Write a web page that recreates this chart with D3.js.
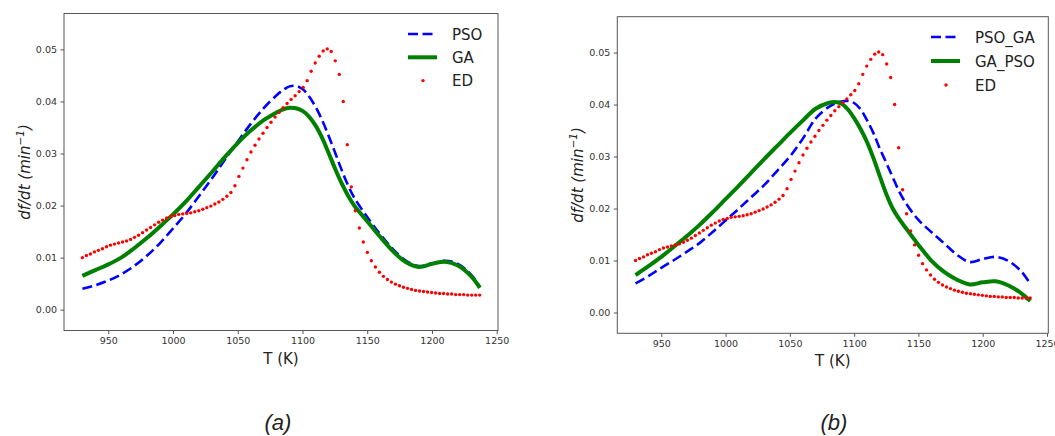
<!DOCTYPE html>
<html lang="en">
<head>
    <meta charset="UTF-8">
    <title>df/dt fits</title>
    <script src="https://d3js.org/d3.v7.min.js"></script>
    <style>
        body { margin: 0; background: #fff; }
        .tick text { font-family: "DejaVu Sans", sans-serif; font-size: 9.5px; fill: #333; }
        .tick line { stroke: #555; }
        .axis-title { font-family: "DejaVu Sans", sans-serif; font-size: 15px; fill: #222; }
        .legend text { font-family: "DejaVu Sans", sans-serif; font-size: 15px; fill: #222; }
        .caption { font-family: "Liberation Sans", Arial, sans-serif; font-size: 22px; font-style: italic; fill: #222; }
    </style>
</head>
<body>
<svg width="1055" height="436"></svg>

<script>
    // temperature grid of the fitted curves (K)
    const fitTemp = [930, 940, 950, 960, 970, 980, 990, 1000, 1010, 1020, 1030, 1040, 1050, 1060, 1070, 1080,
        1085, 1090, 1095, 1100, 1105, 1110, 1115, 1120, 1125, 1130, 1135, 1140, 1150, 1160, 1170, 1180,
        1190, 1200, 1210, 1220, 1230, 1237];

    // panel (a)
    const psoVals = [.0040, .0047, .0056, .0068, .0084, .0104, .0128, .0156, .0185, .0218, .0252, .0288, .0323, .0357, .0387, .0412,
        .0422, .0429, .0430, .0424, .0410, .0390, .0365, .0335, .0303, .0270, .0240, .0215, .0178, .0145, .0116, .0094,
        .0084, .0089, .0094, .0088, .0068, .0044];
    const gaVals = [.0065, .0076, .0087, .0100, .0118, .0138, .0160, .0183, .0208, .0236, .0264, .0293, .0320, .0344, .0364, .0379,
        .0385, .0388, .0387, .0382, .0371, .0354, .0331, .0302, .0272, .0244, .0220, .0200, .0170, .0140, .0112, .0091,
        .0082, .0088, .0092, .0085, .0065, .0042];

    // panel (b)
    const psoGaVals = [.0056, .0070, .0086, .0101, .0117, .0134, .0155, .0177, .0199, .0222, .0245, .0272, .0300, .0334, .0373, .0395,
        .0402, .0406, .0407, .0403, .0391, .0370, .0345, .0315, .0288, .0260, .0233, .0211, .0178, .0155, .0133, .0111,
        .0097, .0103, .0107, .0099, .0079, .0055];
    const gaPsoVals = [.0072, .0089, .0107, .0127, .0147, .0169, .0193, .0218, .0243, .0269, .0295, .0320, .0345, .0369, .0392, .0403,
        .0405, .0402, .0391, .0374, .0353, .0328, .0297, .0262, .0228, .0200, .0180, .0163, .0130, .0100, .0078, .0063,
        .0054, .0058, .0060, .0052, .0037, .0022];

    // experimental data (same in both panels)
    const edTemp = [930.0, 933.1, 936.2, 939.3, 942.4, 945.5, 948.6, 951.7, 954.8, 957.9, 961.0, 964.1, 967.2, 970.3, 973.4,
        976.5, 979.6, 982.7, 985.8, 988.9, 992.0, 995.1, 998.2, 1001.3, 1004.4, 1007.5, 1010.6, 1013.7, 1016.8, 1019.9,
        1023.0, 1026.1, 1029.2, 1032.3, 1035.4, 1038.5, 1041.6, 1044.7, 1047.8, 1050.9, 1054.0, 1057.1, 1060.2, 1063.3,
        1066.4, 1069.5, 1072.6, 1075.7, 1078.8, 1081.9, 1085.0, 1088.1, 1091.2, 1094.3, 1097.4, 1100.5, 1103.6, 1106.7,
        1109.8, 1112.9, 1116.0, 1119.1, 1122.2, 1125.3, 1128.4, 1131.5, 1134.6, 1137.7, 1140.8, 1143.9, 1147.0, 1150.1,
        1153.2, 1156.3, 1159.4, 1162.5, 1165.6, 1168.7, 1171.8, 1174.9, 1178.0, 1181.1, 1184.2, 1187.3, 1190.4, 1193.5,
        1196.6, 1199.7, 1202.8, 1205.9, 1209.0, 1212.1, 1215.2, 1218.3, 1221.4, 1224.5, 1227.6, 1230.7, 1233.8, 1236.9];
    const edVals = [.0100, .0104, .0107, .0111, .0114, .0117, .0121, .0124, .0126, .0128, .0130, .0132, .0135, .0139, .0143,
        .0148, .0153, .0158, .0163, .0168, .0172, .0176, .0179, .0181, .0183, .0184, .0185, .0186, .0188, .0190,
        .0193, .0196, .0199, .0203, .0207, .0212, .0218, .0225, .0238, .0256, .0272, .0288, .0303, .0316,
        .0328, .0339, .0350, .0360, .0370, .0379, .0388, .0396, .0404, .0411, .0419, .0427, .0440, .0458,
        .0474, .0487, .0497, .0501, .0496, .0478, .0452, .0400, .0317, .0236, .0190, .0157, .0130, .0110,
        .0094, .0082, .0072, .0064, .0058, .0053, .0049, .0046, .0043, .0041, .0039, .0037, .0036, .0035,
        .0034, .0033, .0032, .0031, .0031, .0030, .0030, .0029, .0029, .0029, .0028, .0028, .0028, .0028];

    const xTicks = [950, 1000, 1050, 1100, 1150, 1200, 1250];
    const yTicks = [0, 0.01, 0.02, 0.03, 0.04, 0.05];

    const svg = d3.select("svg");
    svg.append("rect").attr("width", 1055).attr("height", 436).attr("fill", "#fff");

    function drawPanel(p) {
        const x = d3.scaleLinear().domain([915.8, 1251]).range([p.left, p.right]);
        const y = d3.scaleLinear().domain([-0.004, 0.0569]).range([p.bottom, p.top]);
        const g = svg.append("g");

        g.append("g")
            .attr("transform", `translate(0,${p.bottom})`)
            .call(d3.axisBottom(x).tickValues(xTicks).tickFormat(d3.format("d")).tickSize(3.5).tickPadding(3))
            .call(a => a.select(".domain").remove());
        g.append("g")
            .attr("transform", `translate(${p.left},0)`)
            .call(d3.axisLeft(y).tickValues(yTicks).tickFormat(d3.format(".2f")).tickSize(3.5).tickPadding(3.5))
            .call(a => a.select(".domain").remove());

        g.append("rect")
            .attr("x", p.left).attr("y", p.top)
            .attr("width", p.right - p.left).attr("height", p.bottom - p.top)
            .attr("fill", "none").attr("stroke", "#555").attr("stroke-width", 1);

        const line = d3.line()
            .x((d, i) => x(fitTemp[i]))
            .y(d => y(d))
            .curve(d3.curveCatmullRom.alpha(0.5));

        g.append("path").datum(p.blue)
            .attr("d", line)
            .attr("fill", "none").attr("stroke", "#0000ff")
            .attr("stroke-width", 2.6).attr("stroke-dasharray", "10,4.5");
        g.append("path").datum(p.green)
            .attr("d", line)
            .attr("fill", "none").attr("stroke", "#008000")
            .attr("stroke-width", 4);

        g.append("g").selectAll("circle")
            .data(edVals)
            .join("circle")
            .attr("cx", (d, i) => x(edTemp[i]))
            .attr("cy", d => y(d))
            .attr("r", 1.7)
            .attr("fill", "#ff0000");

        // axis titles
        g.append("text").attr("class", "axis-title")
            .attr("x", (p.left + p.right) / 2).attr("y", p.bottom + 33)
            .attr("text-anchor", "middle").text("T (K)");
        const yl = g.append("text").attr("class", "axis-title")
            .attr("transform", `translate(${p.left - 34},${(p.top + p.bottom) / 2}) rotate(-90)`)
            .attr("text-anchor", "middle")
            .attr("font-style", "italic");
        yl.append("tspan").text("df/dt (min");
        yl.append("tspan").attr("font-size", "10.5px").attr("dy", -6).text("\u22121");
        yl.append("tspan").attr("dy", 6).text(")");

        // legend
        const lg = g.append("g").attr("class", "legend");
        const rows = [
            {name: p.names[0], type: "dash"},
            {name: p.names[1], type: "solid"},
            {name: "ED", type: "dot"}
        ];
        rows.forEach((r, i) => {
            const ly = p.legY + i * p.legStep;
            if (r.type === "dash") {
                lg.append("line").attr("x1", p.legX).attr("x2", p.legX + 29).attr("y1", ly).attr("y2", ly)
                    .attr("stroke", "#0000ff").attr("stroke-width", 2.6).attr("stroke-dasharray", "10,4.5");
            } else if (r.type === "solid") {
                lg.append("line").attr("x1", p.legX).attr("x2", p.legX + 29).attr("y1", ly).attr("y2", ly)
                    .attr("stroke", "#008000").attr("stroke-width", 4);
            } else {
                lg.append("circle").attr("cx", p.legX + 15).attr("cy", ly).attr("r", 1.7).attr("fill", "#ff0000");
            }
            lg.append("text").attr("x", p.legX + 44).attr("y", ly + 5.5).text(r.name);
        });

        svg.append("text").attr("class", "caption")
            .attr("x", p.capX).attr("y", 430).attr("text-anchor", "middle").text(p.caption);
    }

    drawPanel({
        left: 64, right: 498, top: 13.5, bottom: 330.5,
        blue: psoVals, green: gaVals, names: ["PSO", "GA"],
        legX: 408, legY: 34, legStep: 23.3, capX: 278, caption: "(a)"
    });
    drawPanel({
        left: 617.3, right: 1048.3, top: 16.7, bottom: 333.3,
        blue: psoGaVals, green: gaPsoVals, names: ["PSO_GA", "GA_PSO"],
        legX: 931, legY: 37, legStep: 24, capX: 834, caption: "(b)"
    });
</script>
</body>
</html>
